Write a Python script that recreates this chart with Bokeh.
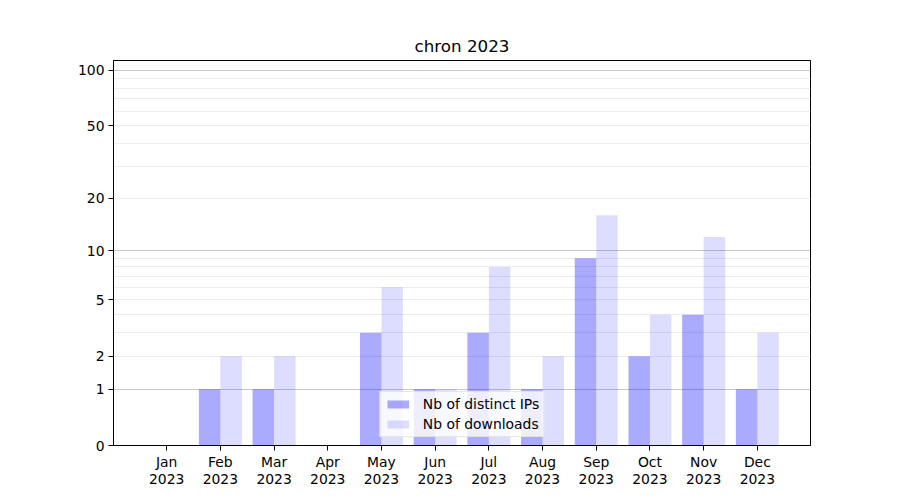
import numpy as np
from bokeh.plotting import figure
from bokeh.models import FixedTicker, Grid, Range1d, Legend, LegendItem
from bokeh.embed import file_html
from bokeh.resources import INLINE

months = ["Jan", "Feb", "Mar", "Apr", "May", "Jun", "Jul", "Aug", "Sep", "Oct", "Nov", "Dec"]
year = "2023"
distinct_ips = [0, 1, 1, 0, 3, 1, 3, 1, 9, 2, 4, 1]
downloads = [0, 2, 2, 0, 6, 1, 8, 2, 16, 4, 12, 3]
y_tick_values = [0, 1, 2, 5, 10, 20, 50, 100]
major_grid_values = [1, 10, 100]
minor_grid_values = [2, 3, 4, 5, 6, 7, 8, 9, 20, 30, 40, 50, 60, 70, 80, 90]
y_max_value = 113


def tf(v):
    return np.log10(1.0 + np.asarray(v, dtype=float))


FONT = "DejaVu Sans"
x = np.arange(len(months))

p = figure(frame_width=697, frame_height=385, output_backend="svg", toolbar_location=None,
           min_border_left=113, min_border_right=74, min_border_top=60, min_border_bottom=39,
           x_range=Range1d(-0.99, 11.99), y_range=Range1d(0, float(tf(y_max_value))))
p.background_fill_color = "white"
p.border_fill_color = "white"
p.outline_line_color = "black"
p.outline_line_alpha = 1.0
p.outline_line_width = 1

p.title.text = "chron " + year
p.title.align = "center"
p.title.text_font = FONT
p.title.text_font_size = "16.7px"
p.title.text_font_style = "normal"
p.title.text_color = "black"

r1 = p.vbar(x=x - 0.2, width=0.4, top=tf(distinct_ips), bottom=0,
            fill_color="blue", fill_alpha=0.333, line_color=None)
r2 = p.vbar(x=x + 0.2, width=0.4, top=tf(downloads), bottom=0,
            fill_color="blue", fill_alpha=0.133, line_color=None)

# axes
p.xaxis.ticker = FixedTicker(ticks=list(x))
p.xaxis.major_label_overrides = {int(i): f"{m}\n{year}" for i, m in zip(x, months)}
p.yaxis.ticker = FixedTicker(ticks=list(tf(y_tick_values)))
p.yaxis.major_label_overrides = {float(t): str(v) for t, v in zip(tf(y_tick_values), y_tick_values)}
for ax in (p.xaxis[0], p.yaxis[0]):
    ax.major_label_text_font = FONT
    ax.major_label_text_font_size = "13.9px"
    ax.major_label_text_color = "black"
    ax.major_tick_out = 5
    ax.major_tick_in = 0
    ax.minor_tick_out = 0
    ax.minor_tick_in = 0
    ax.axis_line_color = "black"
    ax.major_tick_line_color = "black"
    ax.major_label_standoff = 4
p.xaxis.major_label_text_line_height = 1.1
p.xaxis.major_label_standoff = 3

p.xgrid.visible = False
p.ygrid.ticker = FixedTicker(ticks=list(tf(major_grid_values)))
p.ygrid.grid_line_color = "#c8c8c8"
p.ygrid.grid_line_width = 1
minor = Grid(dimension=1, ticker=FixedTicker(ticks=list(tf(minor_grid_values))),
             grid_line_color="#ececec", grid_line_width=1)
p.add_layout(minor)

legend = Legend(items=[LegendItem(label="Nb of distinct IPs", renderers=[r1]),
                       LegendItem(label="Nb of downloads", renderers=[r2])],
                location="bottom_center", orientation="vertical")
legend.label_text_font = FONT
legend.label_text_font_size = "13.9px"
legend.label_text_color = "black"
legend.glyph_width = 27
legend.glyph_height = 10
legend.label_height = 16
legend.label_standoff = 12
legend.spacing = 4
legend.padding = 4
legend.margin = 8
legend.border_line_color = "#d0d0d0"
legend.border_line_width = 1
legend.background_fill_color = "white"
legend.background_fill_alpha = 0.8
p.add_layout(legend)

open("out.html", "w").write(file_html(p, INLINE))
